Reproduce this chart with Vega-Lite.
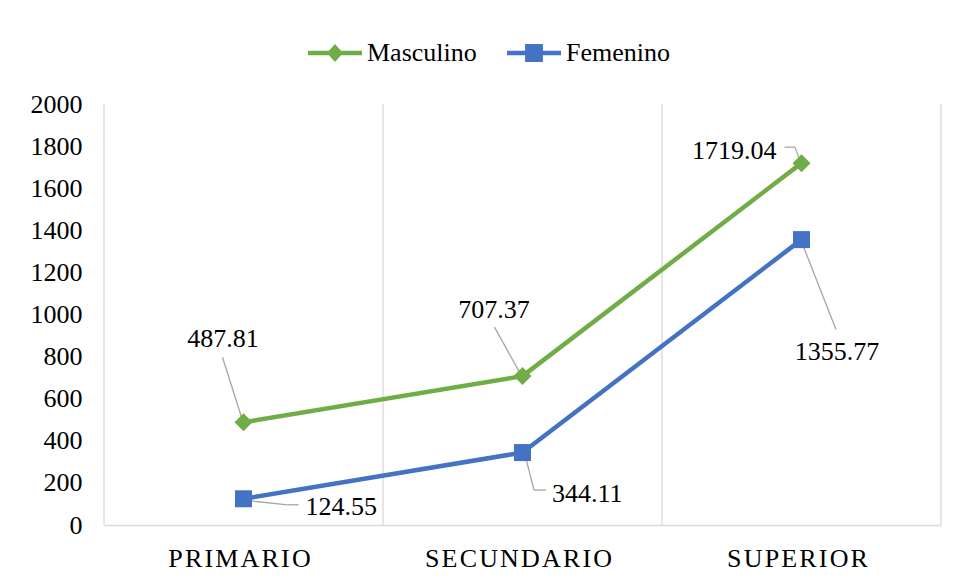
{
  "$schema": "https://vega.github.io/schema/vega-lite/v6.json",
  "width": 837,
  "height": 421,
  "autosize": {"type": "none"},
  "padding": {"left": 104, "top": 104, "right": 15, "bottom": 58},
  "background": "white",
  "config": {
    "view": {"stroke": null},
    "font": "Liberation Serif",
    "axisX": {"domainColor": "#D9D9D9", "domainWidth": 1.3, "ticks": false, "tickSize": 0, "grid": false, "labelFont": "Liberation Serif", "labelFontSize": 26, "labelColor": "#000000", "labelPadding": 41, "labelBaseline": "alphabetic", "labelAngle": 0, "labelLimit": 0, "labelOffset": -4},
    "axisY": {"domain": false, "ticks": false, "tickSize": 0, "grid": false, "labelFont": "Liberation Serif", "labelFontSize": 26, "labelColor": "#000000", "labelPadding": 22, "format": "d"},
    "legend": {"orient": "none", "legendX": 204, "legendY": -78, "direction": "horizontal", "symbolSize": 2916, "symbolOpacity": 1, "symbolStrokeWidth": 0, "labelFont": "Liberation Serif", "labelFontSize": 26, "labelColor": "#000000", "labelOffset": 5, "columnPadding": 30, "padding": 0}
  },
  "data": {"values": [
    {"nivel": "PRIMARIO", "sexo": "Masculino", "valor": 487.81},
    {"nivel": "SECUNDARIO", "sexo": "Masculino", "valor": 707.37},
    {"nivel": "SUPERIOR", "sexo": "Masculino", "valor": 1719.04},
    {"nivel": "PRIMARIO", "sexo": "Femenino", "valor": 124.55},
    {"nivel": "SECUNDARIO", "sexo": "Femenino", "valor": 344.11},
    {"nivel": "SUPERIOR", "sexo": "Femenino", "valor": 1355.77}
  ]},
  "layer": [
    {
      "transform": [{"filter": "datum.sexo === 'Masculino'"}],
      "mark": {"type": "rule", "color": "#D9D9D9", "strokeWidth": 1.3},
      "encoding": {"x": {"field": "nivel", "type": "nominal", "bandPosition": 0, "title": null, "scale": {"type": "band", "paddingInner": 0, "paddingOuter": 0, "domain": ["PRIMARIO", "SECUNDARIO", "SUPERIOR"]}, "axis": {"labelExpr": "join(split(datum.label, ''), '\u200a')"}}}
    },
    {
      "transform": [{"filter": "datum.sexo === 'Masculino' && datum.nivel === 'SUPERIOR'"}],
      "mark": {"type": "rule", "color": "#D9D9D9", "strokeWidth": 1.3},
      "encoding": {"x": {"field": "nivel", "type": "nominal", "bandPosition": 1, "title": null}}
    },
    {
      "transform": [{"filter": "datum.sexo === 'Masculino' && datum.nivel === 'PRIMARIO'"}],
      "mark": {"type": "rule", "color": "#A6A6A6", "strokeWidth": 1.3, "xOffset": -21, "yOffset": -65, "x2Offset": -2, "y2Offset": -5},
      "encoding": {"x": {"field": "nivel", "type": "nominal", "title": null}, "x2": {"field": "nivel"}, "y": {"field": "valor", "type": "quantitative", "title": null}, "y2": {"field": "valor"}}
    },
    {
      "transform": [{"filter": "datum.sexo === 'Masculino' && datum.nivel === 'SECUNDARIO'"}],
      "mark": {"type": "rule", "color": "#A6A6A6", "strokeWidth": 1.3, "xOffset": -28, "yOffset": -49, "x2Offset": -2, "y2Offset": -2},
      "encoding": {"x": {"field": "nivel", "type": "nominal", "title": null}, "x2": {"field": "nivel"}, "y": {"field": "valor", "type": "quantitative", "title": null}, "y2": {"field": "valor"}}
    },
    {
      "transform": [{"filter": "datum.sexo === 'Masculino' && datum.nivel === 'SUPERIOR'"}],
      "mark": {"type": "rule", "color": "#A6A6A6", "strokeWidth": 1.3, "xOffset": -17, "yOffset": -16, "x2Offset": -6.5, "y2Offset": -16},
      "encoding": {"x": {"field": "nivel", "type": "nominal", "title": null}, "x2": {"field": "nivel"}, "y": {"field": "valor", "type": "quantitative", "title": null}, "y2": {"field": "valor"}}
    },
    {
      "transform": [{"filter": "datum.sexo === 'Masculino' && datum.nivel === 'SUPERIOR'"}],
      "mark": {"type": "rule", "color": "#A6A6A6", "strokeWidth": 1.3, "xOffset": -6.5, "yOffset": -16, "x2Offset": -1, "y2Offset": -1},
      "encoding": {"x": {"field": "nivel", "type": "nominal", "title": null}, "x2": {"field": "nivel"}, "y": {"field": "valor", "type": "quantitative", "title": null}, "y2": {"field": "valor"}}
    },
    {
      "transform": [{"filter": "datum.sexo === 'Femenino' && datum.nivel === 'PRIMARIO'"}],
      "mark": {"type": "rule", "color": "#A6A6A6", "strokeWidth": 1.3, "xOffset": 6, "yOffset": 2, "x2Offset": 44, "y2Offset": 6},
      "encoding": {"x": {"field": "nivel", "type": "nominal", "title": null}, "x2": {"field": "nivel"}, "y": {"field": "valor", "type": "quantitative", "title": null}, "y2": {"field": "valor"}}
    },
    {
      "transform": [{"filter": "datum.sexo === 'Femenino' && datum.nivel === 'PRIMARIO'"}],
      "mark": {"type": "rule", "color": "#A6A6A6", "strokeWidth": 1.3, "xOffset": 44, "yOffset": 6, "x2Offset": 55, "y2Offset": 6},
      "encoding": {"x": {"field": "nivel", "type": "nominal", "title": null}, "x2": {"field": "nivel"}, "y": {"field": "valor", "type": "quantitative", "title": null}, "y2": {"field": "valor"}}
    },
    {
      "transform": [{"filter": "datum.sexo === 'Femenino' && datum.nivel === 'SECUNDARIO'"}],
      "mark": {"type": "rule", "color": "#A6A6A6", "strokeWidth": 1.3, "xOffset": 3, "yOffset": 4, "x2Offset": 11.5, "y2Offset": 37.5},
      "encoding": {"x": {"field": "nivel", "type": "nominal", "title": null}, "x2": {"field": "nivel"}, "y": {"field": "valor", "type": "quantitative", "title": null}, "y2": {"field": "valor"}}
    },
    {
      "transform": [{"filter": "datum.sexo === 'Femenino' && datum.nivel === 'SECUNDARIO'"}],
      "mark": {"type": "rule", "color": "#A6A6A6", "strokeWidth": 1.3, "xOffset": 11.5, "yOffset": 37.5, "x2Offset": 23.5, "y2Offset": 37.5},
      "encoding": {"x": {"field": "nivel", "type": "nominal", "title": null}, "x2": {"field": "nivel"}, "y": {"field": "valor", "type": "quantitative", "title": null}, "y2": {"field": "valor"}}
    },
    {
      "transform": [{"filter": "datum.sexo === 'Femenino' && datum.nivel === 'SUPERIOR'"}],
      "mark": {"type": "rule", "color": "#A6A6A6", "strokeWidth": 1.3, "xOffset": 0, "yOffset": 2, "x2Offset": 34.5, "y2Offset": 90},
      "encoding": {"x": {"field": "nivel", "type": "nominal", "title": null}, "x2": {"field": "nivel"}, "y": {"field": "valor", "type": "quantitative", "title": null}, "y2": {"field": "valor"}}
    },
    {
      "mark": {"type": "line", "strokeWidth": 4.5, "strokeCap": "round", "strokeJoin": "round"},
      "encoding": {
        "x": {"field": "nivel", "type": "nominal", "title": null},
        "y": {"field": "valor", "type": "quantitative", "title": null, "scale": {"domain": [0, 2000], "nice": false}, "axis": {"values": [0, 200, 400, 600, 800, 1000, 1200, 1400, 1600, 1800, 2000]}},
        "color": {"field": "sexo", "type": "nominal", "title": null, "scale": {"domain": ["Masculino", "Femenino"], "range": ["#70AD47", "#4472C4"]}}
      }
    },
    {
      "transform": [{"filter": "datum.sexo === 'Masculino'"}],
      "mark": {"type": "point", "shape": "diamond", "filled": true, "size": 324, "color": "#70AD47", "opacity": 1},
      "encoding": {"x": {"field": "nivel", "type": "nominal", "title": null}, "y": {"field": "valor", "type": "quantitative", "title": null}}
    },
    {
      "transform": [{"filter": "datum.sexo === 'Femenino'"}],
      "mark": {"type": "point", "shape": "square", "filled": true, "size": 289, "color": "#4472C4", "opacity": 1},
      "encoding": {"x": {"field": "nivel", "type": "nominal", "title": null}, "y": {"field": "valor", "type": "quantitative", "title": null}}
    },
    {
      "transform": [{"filter": "datum.sexo === 'Masculino' && datum.nivel === 'PRIMARIO'"}],
      "mark": {"type": "text", "font": "Liberation Serif", "fontSize": 26, "color": "#000000", "align": "center", "baseline": "alphabetic", "dx": -20.5, "dy": -75},
      "encoding": {"x": {"field": "nivel", "type": "nominal", "title": null}, "y": {"field": "valor", "type": "quantitative", "title": null}, "text": {"field": "valor", "type": "quantitative", "format": ".2f"}}
    },
    {
      "transform": [{"filter": "datum.sexo === 'Masculino' && datum.nivel === 'SECUNDARIO'"}],
      "mark": {"type": "text", "font": "Liberation Serif", "fontSize": 26, "color": "#000000", "align": "center", "baseline": "alphabetic", "dx": -28.5, "dy": -58},
      "encoding": {"x": {"field": "nivel", "type": "nominal", "title": null}, "y": {"field": "valor", "type": "quantitative", "title": null}, "text": {"field": "valor", "type": "quantitative", "format": ".2f"}}
    },
    {
      "transform": [{"filter": "datum.sexo === 'Masculino' && datum.nivel === 'SUPERIOR'"}],
      "mark": {"type": "text", "font": "Liberation Serif", "fontSize": 26, "color": "#000000", "align": "right", "baseline": "alphabetic", "dx": -25, "dy": -4},
      "encoding": {"x": {"field": "nivel", "type": "nominal", "title": null}, "y": {"field": "valor", "type": "quantitative", "title": null}, "text": {"field": "valor", "type": "quantitative", "format": ".2f"}}
    },
    {
      "transform": [{"filter": "datum.sexo === 'Femenino' && datum.nivel === 'PRIMARIO'"}],
      "mark": {"type": "text", "font": "Liberation Serif", "fontSize": 26, "color": "#000000", "align": "left", "baseline": "alphabetic", "dx": 62, "dy": 16},
      "encoding": {"x": {"field": "nivel", "type": "nominal", "title": null}, "y": {"field": "valor", "type": "quantitative", "title": null}, "text": {"field": "valor", "type": "quantitative", "format": ".2f"}}
    },
    {
      "transform": [{"filter": "datum.sexo === 'Femenino' && datum.nivel === 'SECUNDARIO'"}],
      "mark": {"type": "text", "font": "Liberation Serif", "fontSize": 26, "color": "#000000", "align": "left", "baseline": "alphabetic", "dx": 29.5, "dy": 49},
      "encoding": {"x": {"field": "nivel", "type": "nominal", "title": null}, "y": {"field": "valor", "type": "quantitative", "title": null}, "text": {"field": "valor", "type": "quantitative", "format": ".2f"}}
    },
    {
      "transform": [{"filter": "datum.sexo === 'Femenino' && datum.nivel === 'SUPERIOR'"}],
      "mark": {"type": "text", "font": "Liberation Serif", "fontSize": 26, "color": "#000000", "align": "center", "baseline": "alphabetic", "dx": 35.5, "dy": 120},
      "encoding": {"x": {"field": "nivel", "type": "nominal", "title": null}, "y": {"field": "valor", "type": "quantitative", "title": null}, "text": {"field": "valor", "type": "quantitative", "format": ".2f"}}
    },
    {
      "mark": {"type": "point", "filled": true, "opacity": 0, "size": 10},
      "encoding": {
        "x": {"field": "nivel", "type": "nominal", "title": null},
        "y": {"field": "valor", "type": "quantitative", "title": null},
        "color": {"field": "sexo", "type": "nominal", "title": null, "scale": {"domain": ["Masculino", "Femenino"], "range": ["#70AD47", "#4472C4"]}},
        "shape": {"field": "sexo", "type": "nominal", "title": null, "scale": {"domain": ["Masculino", "Femenino"], "range": ["M-1,-0.085L1,-0.085L1,0.085L-1,0.085Z M-0.3,0L0,-0.33L0.3,0L0,0.33Z", "M-1,-0.085L1,-0.085L1,0.085L-1,0.085Z M-0.33,-0.33L0.33,-0.33L0.33,0.33L-0.33,0.33Z"]}}
      }
    }
  ]
}
